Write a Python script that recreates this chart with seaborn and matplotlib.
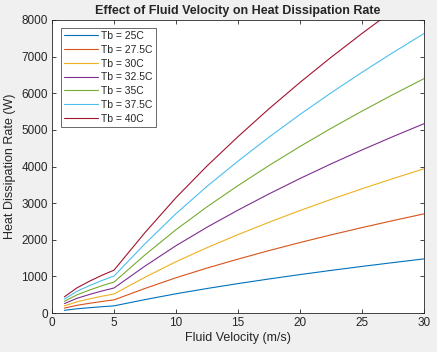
import matplotlib
matplotlib.use("Agg")
import matplotlib.pyplot as plt
import seaborn as sns
import pandas as pd

# fluid velocity (m/s)
velocity = [1, 2, 3, 4, 5, 7.5, 10, 12.5, 15, 17.5, 20, 22.5, 25, 27.5, 30]

# heat dissipation rate (W), one list per bulk temperature
q_25 = [74, 114, 144, 171, 195, 366, 525, 669, 803, 929, 1049, 1163, 1272, 1376, 1477]
q_275 = [135, 209, 264, 314, 358, 671, 963, 1227, 1471, 1704, 1924, 2133, 2332, 2523, 2707]
q_30 = [196, 304, 384, 456, 520, 976, 1400, 1784, 2140, 2478, 2798, 3102, 3392, 3670, 3938]
q_325 = [257, 399, 504, 599, 683, 1281, 1838, 2342, 2809, 3252, 3672, 4071, 4452, 4817, 5169]
q_35 = [319, 494, 624, 741, 845, 1586, 2275, 2899, 3478, 4027, 4547, 5041, 5512, 5964, 6399]
q_375 = [380, 589, 744, 884, 1008, 1891, 2713, 3457, 4146, 4801, 5421, 6010, 6572, 7111, 7630]
q_40 = [441, 684, 864, 1026, 1170, 2196, 3150, 4014, 4815, 5576, 6296, 6980, 7632, 8258, 8861]

labels = ["Tb = 25C", "Tb = 27.5C", "Tb = 30C", "Tb = 32.5C",
          "Tb = 35C", "Tb = 37.5C", "Tb = 40C"]
series = [q_25, q_275, q_30, q_325, q_35, q_375, q_40]

colors = ["#0072BD", "#D95319", "#EDB120", "#7E2F8E",
          "#77AC30", "#4DBEEE", "#A2142F"]

rows = []
for lab, vals in zip(labels, series):
    for v, q in zip(velocity, vals):
        rows.append({"v": v, "q": q, "Tb": lab})
df = pd.DataFrame(rows)

sns.set_style("ticks")
plt.rcParams["font.family"] = ["Liberation Sans", "DejaVu Sans"]

fig = plt.figure(figsize=(4.37, 3.52), dpi=100, facecolor="#f0f0f0")
ax = fig.add_axes([52 / 437, 1 - 313 / 352, (424 - 52) / 437, (313 - 20) / 352])
ax.set_facecolor("white")

sns.lineplot(data=df, x="v", y="q", hue="Tb", hue_order=labels,
             palette=colors, linewidth=0.8, ax=ax)

ax.set_xlim(0, 30)
ax.set_ylim(0, 8000)
ax.set_xticks(range(0, 31, 5))
ax.set_yticks(range(0, 8001, 1000))
ax.tick_params(direction="in", top=True, right=True, length=3, width=0.6,
               labelsize=8.5, colors="#262626", pad=3)
for s in ax.spines.values():
    s.set_visible(True)
    s.set_color("#262626")
    s.set_linewidth(0.6)

ax.set_xlabel("Fluid Velocity (m/s)", fontsize=9, color="#262626", labelpad=2)
ax.set_ylabel("Heat Dissipation Rate (W)", fontsize=9, color="#262626")
ax.set_title("Effect of Fluid Velocity on Heat Dissipation Rate",
             fontsize=9, fontweight="bold", pad=4)

leg = ax.legend(loc="upper left", fontsize=7.5, frameon=True, fancybox=False,
                edgecolor="#262626", borderpad=0.3, labelspacing=0.36,
                handlelength=3.3, handletextpad=0.3, borderaxespad=0,
                bbox_to_anchor=(0.023, 0.973))
leg.get_frame().set_linewidth(0.6)

fig.savefig("out.png", dpi=100, facecolor=fig.get_facecolor())
